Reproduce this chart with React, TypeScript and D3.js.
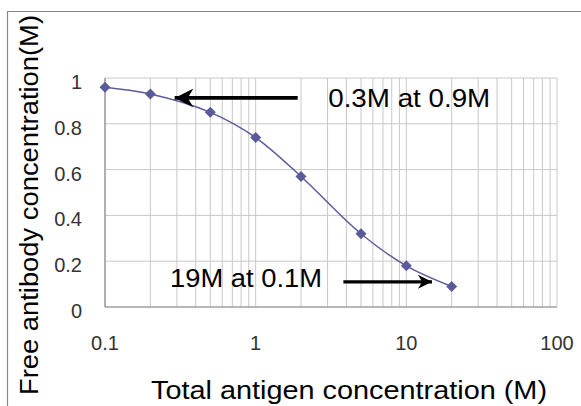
// @ts-nocheck
import * as d3 from "d3"

// data
const antigen = [0.1, 0.2, 0.5, 1, 2, 5, 10, 20]
const freeAntibody = [0.96, 0.93, 0.85, 0.74, 0.57, 0.32, 0.18, 0.09]
const xTicks = [0.1, 1, 10, 100]
const yTicks = [0, 0.2, 0.4, 0.6, 0.8, 1]
const notes = [
  { text: "0.3M at 0.9M", from: [1.9, 0.913], to: [0.29, 0.913], tx: 3.03, ty: 0.873 },
  { text: "19M at 0.1M", from: [3.82, 0.11], to: [14.8, 0.11], tx: 0.27, ty: 0.086 },
]

const W = 581
const H = 406
const margin = { top: 78, right: 24, bottom: 99, left: 105 }

export default function App() {
  const x = d3.scaleLog().domain([0.1, 100]).range([margin.left, W - margin.right])
  const y = d3.scaleLinear().domain([0, 1]).range([H - margin.bottom, margin.top])

  // minor log grid: 1..9 of every decade
  const minor = []
  for (let dec = 0.1; dec < 100; dec *= 10) {
    for (let k = 1; k <= 9; k++) minor.push(+(dec * k).toPrecision(3))
  }
  minor.push(100)

  const line = d3.line()
    .x((d, i) => x(antigen[i]))
    .y(d => y(d))
    .curve(d3.curveCatmullRom.alpha(0.5))

  const diamond = "M0,-5.5L5.5,0L0,5.5L-5.5,0Z"

  const font = "'Liberation Sans', Arial, sans-serif"

  return (
    <svg width={W} height={H} style={{ position: "absolute", left: 0, top: 0, background: "#fff" }} fontFamily={font}>
      <defs>
        <marker id="headBig" viewBox="0 0 10 10" refX="10" refY="5" markerWidth="6" markerHeight="5.2" markerUnits="strokeWidth" orient="auto">
          <path d="M0,0 L10,5 L0,10 L3,5 Z" fill="#000" />
        </marker>
        <marker id="headSmall" viewBox="0 0 10 10" refX="10" refY="5" markerWidth="4.4" markerHeight="4.4" markerUnits="strokeWidth" orient="auto">
          <path d="M0,0 L10,5 L0,10 L3,5 Z" fill="#000" />
        </marker>
      </defs>

      {/* outer chart frame */}
      <path d="M7.5,406 V11.5 H581" fill="none" stroke="#888" strokeWidth={1.2} />

      {/* grid */}
      <g stroke="#c8c8c8" strokeWidth={1}>
        {minor.map(v => (
          <line key={"v" + v} x1={x(v)} x2={x(v)} y1={y(0)} y2={y(1)} />
        ))}
        {yTicks.map(v => (
          <line key={"h" + v} x1={x(0.1)} x2={x(100)} y1={y(v)} y2={y(v)} />
        ))}
      </g>

      {/* axes */}
      <g stroke="#8c8c8c" strokeWidth={1.2}>
        <line x1={x(0.1)} x2={x(0.1)} y1={y(0)} y2={y(1)} />
        <line x1={x(0.1)} x2={x(100)} y1={y(0)} y2={y(0)} />
      </g>

      {/* tick labels */}
      <g fontSize={20} fill="#333">
        {yTicks.map(v => (
          <text key={"yt" + v} x={x(0.1) - 23} y={y(v) + 4} dy="0.35em" textAnchor="end">{d3.format("~g")(v)}</text>
        ))}
        {xTicks.map(v => (
          <text key={"xt" + v} x={x(v)} y={y(0) + 36} dy="0.35em" textAnchor="middle">{v}</text>
        ))}
      </g>

      {/* axis titles */}
      <text x={151} y={399} fontSize={26} textLength={396} lengthAdjust="spacingAndGlyphs" fill="#000">Total antigen concentration (M)</text>
      <text transform="translate(38,395) rotate(-90)" fontSize={26} textLength={380} lengthAdjust="spacingAndGlyphs" fill="#000">Free antibody concentration(M)</text>

      {/* series */}
      <path d={line(freeAntibody)} fill="none" stroke="#5b5b9b" strokeWidth={1.5} />
      {freeAntibody.map((v, i) => (
        <path key={"m" + i} d={diamond} transform={`translate(${x(antigen[i])},${y(v)})`} fill="#5b5b9b" />
      ))}

      {/* annotations */}
      {notes.map((n, i) => (
        <g key={"n" + i}>
          <line x1={x(n.from[0])} y1={y(n.from[1])} x2={x(n.to[0])} y2={y(n.to[1])}
            stroke="#000" strokeWidth={i === 0 ? 3.6 : 3.2} markerEnd={i === 0 ? "url(#headBig)" : "url(#headSmall)"} />
          <text x={x(n.tx)} y={y(n.ty)} fontSize={26} fill="#000"
            textLength={i === 0 ? 162 : 152} lengthAdjust="spacingAndGlyphs">{n.text}</text>
        </g>
      ))}
    </svg>
  )
}
